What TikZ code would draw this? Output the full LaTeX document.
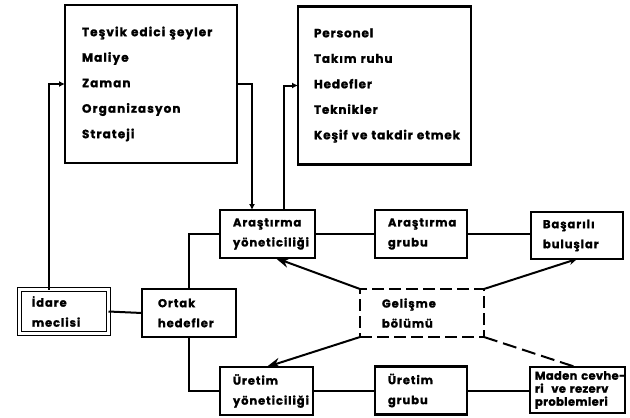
\documentclass[tikz,border=0pt]{standalone}
\usepackage{fontspec}
\setmainfont{Poppins}
\newfontfamily\dfont{Poppins}[LetterSpace=8, BoldFeatures={FakeBold=1.2}]
\newfontfamily\dfontb{Poppins}[LetterSpace=9, BoldFeatures={FakeBold=1.2}]
\newfontfamily\dfontc{Poppins}[LetterSpace=7, BoldFeatures={FakeBold=1.2}]
\newfontfamily\dfontm{Poppins}[LetterSpace=3, BoldFeatures={FakeBold=1.2}]
\usetikzlibrary{arrows.meta}
\begin{document}
\begin{tikzpicture}[x=1pt,y=-1pt,
  bx/.style={draw, line width=2.4pt, rectangle, inner sep=0pt, outer sep=0pt,
    font=\dfont\bfseries\fontsize{11.5}{20}\selectfont, align=left},
  small/.style={bx, minimum width=#1, minimum height=48pt},
  big/.style={bx, minimum height=158pt, minimum width=172pt,
    font=\dfontb\bfseries\fontsize{12}{25.5}\selectfont},
  ln/.style={line width=2pt},
  arr/.style={ln, -{Latex[length=6pt,width=6pt]}},
  barr/.style={ln, -{Stealth[length=14pt,width=10pt]}}]
\useasboundingbox (0,0) rectangle (630,418);
% top boxes
\node[big, text width=138pt] (box1) at (151,84) {\mbox{Teşvik edici şeyler}\\Maliye\\Zaman\\Organizasyon\\Strateji};
\node[big, minimum width=173pt, text width=141pt,
  font=\dfontc\bfseries\fontsize{12}{25.5}\selectfont] (box2) at (384.5,85.5) {Personel\\\mbox{Takım ruhu}\\Hedefler\\Teknikler\\\mbox{Keşif ve takdir etmek}};
% middle row
\node[small=95pt, text width=69pt] (ary) at (267.5,234) {Araştırma\\yöneticiliği};
\node[small=92pt, text width=66pt] (arg) at (421,234) {Araştırma\\grubu};
\node[small=92pt, minimum height=47pt, text width=68pt] (bas) at (577,235.5) {Başarılı\\buluşlar};
\node[small=94pt, double, line width=1.6pt, double distance=2.2pt, minimum width=89pt, minimum height=44pt, text width=64pt] (idare) at (64,311.5) {İdare\\meclisi};
\node[small=94pt, text width=62pt] (ortak) at (189,313) {Ortak\\hedefler};
\node[small=124pt, dashed, dash pattern=on 12pt off 5pt, text width=80pt] (gel) at (422,313) {Gelişme\\bölümü};
\node[small=93pt, text width=67pt] (ury) at (266.5,391) {Üretim\\yöneticiliği};
\node[small=92pt, text width=66pt] (urg) at (421,390.5) {Üretim\\grubu};
\node[small=95pt, minimum height=46pt, text width=85pt,
  font=\dfontm\bfseries\fontsize{11.5}{13}\selectfont] (mad) at (577.5,390) {\mbox{Maden cevhe-}\\\mbox{ri\ \ ve rezerv}\\problemleri};
% connectors
\draw[arr] ([xshift=-15pt]idare.north) |- (box1.west);
\draw[arr] (box1.east) -| ([xshift=-15.5pt]ary.north);
\draw[arr] ([xshift=16pt]ary.north) |- (box2.west);
\draw[ln] (idare.east) -- (ortak.west);
\draw[ln] (ortak.north) |- (ary.west);
\draw[ln] (ortak.south) |- (ury.west);
\draw[ln] (ary.east) -- (arg.west);
\draw[ln] (arg.east) -- (arg.east -| bas.west);
\draw[ln] (ury.east) -- (ury.east -| urg.west);
\draw[ln] (urg.east) -- (urg.east -| mad.west);
\draw[barr] (gel.north west) -- ([xshift=8pt]ary.south);
\draw[barr] (gel.south west) -- (ury.north);
\draw[ln, -{Stealth[length=8pt,width=7pt]}] (gel.north east) -- (bas.south);
\draw[ln, dashed, dash pattern=on 14pt off 6pt] (gel.south east) -- ([xshift=-2pt]mad.north);
\end{tikzpicture}
\end{document}
